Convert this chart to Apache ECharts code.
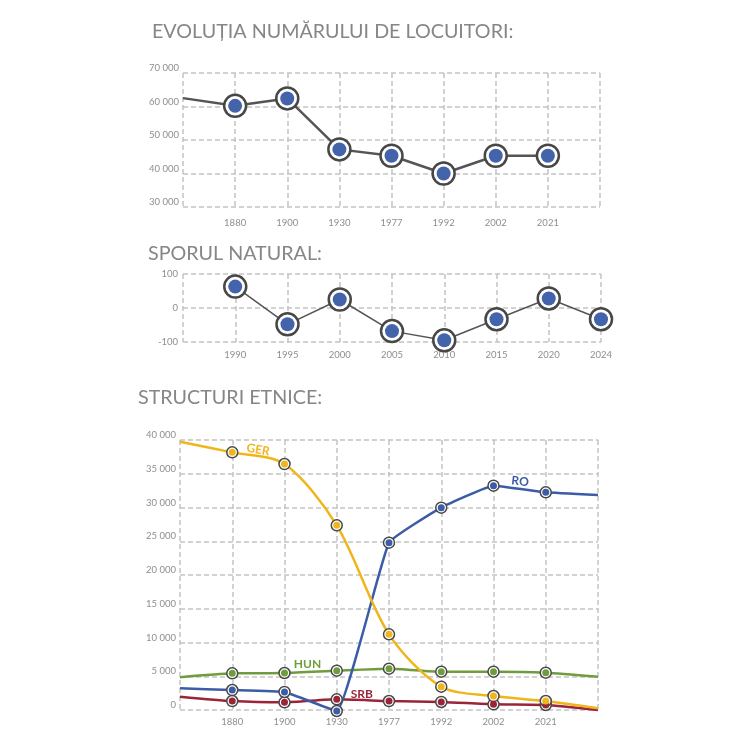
<!DOCTYPE html>
<html lang="ro">
<head>
    <meta charset="UTF-8">
    <title>Evoluția numărului de locuitori</title>
    <script src="https://cdn.jsdelivr.net/npm/echarts@6/dist/echarts.min.js"></script>
    <style>
        html, body { margin: 0; padding: 0; background: #fff; }
    </style>
</head>
<body>
    <div id="main" style="width: 750px; height: 750px;"></div>
    <script>
        // #region date
        var popYears = ['', '1880', '1900', '1930', '1977', '1992', '2002', '2021', '']
        var popValues = [62500, 60200, 62400, 47200, 45300, 40000, 45300, 45300, null]

        var natYears = ['', '1990', '1995', '2000', '2005', '2010', '2015', '2020', '2024']
        var natValues = [null, 63, -48, 25, -68, -95, -33, 28, -33]

        var ethYears = ['', '1880', '1900', '1930', '1977', '1992', '2002', '2021', '']
        var gerValues = [39750, 38170, 36440, 27360, 11210, 3460, 2070, 1330, 250]
        var roValues = [3210, 2960, 2670, -150, 24790, 29980, 33240, 32250, 31850]
        var hunValues = [4840, 5430, 5480, 5830, 6120, 5680, 5680, 5530, 4940]
        var srbValues = [1980, 1330, 1140, 1580, 1330, 1190, 840, 740, 0]
        // #endregion

        var gray = '#868686'
        var labelGray = '#8e8e8e'
        var ring = '#474747'
        var dash = { color: '#c4c4c4', width: 1.5, type: [5, 3] }

        function thousands(v) {
            return String(v).replace(/\B(?=(\d{3})+(?!\d))/g, ' ')
        }

        // puncte fara cerc acolo unde anul lipseste
        function ringData(years, values, labels) {
            return values.map(function (v, i) {
                var item = { value: v }
                if (years[i] === '') item.symbol = 'none'
                if (labels && labels[i]) item.label = labels[i]
                return item
            })
        }
        function dotData(years, values) {
            return values.map(function (v, i) {
                return years[i] === '' ? null : v
            })
        }

        function xAxis(idx, data, margin) {
            return {
                type: 'category', gridIndex: idx, data: data, boundaryGap: false,
                axisLine: { show: false }, axisTick: { show: false },
                axisLabel: { color: labelGray, fontSize: 9.5, margin: margin, fontFamily: 'Lato' },
                splitLine: { show: true, lineStyle: dash }
            }
        }

        function lineSeries(ax, years, values, color, width, size, border, labels, smooth) {
            return {
                type: 'line', xAxisIndex: ax, yAxisIndex: ax,
                data: ringData(years, values, labels),
                smooth: smooth || false,
                clip: false,
                symbol: 'circle', symbolSize: size,
                lineStyle: { color: color, width: width },
                itemStyle: { color: '#fff', borderColor: ring, borderWidth: border },
                emphasis: { disabled: true },
                z: 3
            }
        }
        function dotSeries(ax, years, values, color, size) {
            return {
                type: 'scatter', xAxisIndex: ax, yAxisIndex: ax,
                data: dotData(years, values),
                symbolSize: size, clip: false,
                itemStyle: { color: color, opacity: 1 },
                emphasis: { disabled: true },
                z: 4
            }
        }

        function tag(text, color, dx, dy, rot) {
            return {
                show: true, formatter: text, position: 'inside', offset: [dx, dy], rotate: rot || 0,
                color: color, fontSize: 12, fontWeight: 'bold', fontFamily: 'Lato'
            }
        }

        var chart = echarts.init(document.getElementById('main'))

        var titleStyle = { color: gray, fontSize: 19.7, fontWeight: 'normal', fontFamily: 'Lato' }

        var option = {
            animation: false,
            title: [
                { text: 'EVOLUȚIA NUMĂRULUI DE LOCUITORI:', left: 147, top: 17, textStyle: titleStyle },
                { text: 'SPORUL NATURAL:', left: 143, top: 239, textStyle: titleStyle },
                { text: 'STRUCTURI ETNICE:', left: 133, top: 383, textStyle: titleStyle }
            ],
            grid: [
                { left: 183, right: 150, top: 73, height: 134 },
                { left: 183, right: 149, top: 274, height: 68 },
                { left: 180, right: 152, top: 440, height: 270 }
            ],
            xAxis: [
                xAxis(0, popYears, 11),
                xAxis(1, natYears, 8),
                xAxis(2, ethYears, 7)
            ],
            yAxis: [
                {
                    type: 'value', gridIndex: 0, min: 30000, max: 70000, interval: 10000,
                    axisLine: { show: false }, axisTick: { show: false },
                    axisLabel: { color: labelGray, fontSize: 9.5, margin: 4, verticalAlign: 'bottom', fontFamily: 'Lato', formatter: thousands },
                    splitLine: { show: true, lineStyle: dash }
                },
                {
                    type: 'value', gridIndex: 1, min: -100, max: 100, interval: 100,
                    axisLine: { show: false }, axisTick: { show: false },
                    axisLabel: { color: labelGray, fontSize: 9.5, margin: 5, fontFamily: 'Lato' },
                    splitLine: { show: true, lineStyle: dash }
                },
                {
                    type: 'value', gridIndex: 2, min: 0, max: 40000, interval: 5000,
                    axisLine: { show: false }, axisTick: { show: false },
                    axisLabel: { color: labelGray, fontSize: 9.5, margin: 4, verticalAlign: 'bottom', fontFamily: 'Lato', formatter: thousands },
                    splitLine: { show: true, lineStyle: dash }
                }
            ],
            series: [
                lineSeries(0, popYears, popValues, '#555', 2.5, 22, 2.5),
                dotSeries(0, popYears, popValues, '#4363ab', 14),

                lineSeries(1, natYears, natValues, '#555', 1.5, 22, 2.5),
                dotSeries(1, natYears, natValues, '#4363ab', 14),

                lineSeries(2, ethYears, hunValues, '#6f9c3d', 2.5, 11, 1.5,
                    { 2: tag('HUN', '#6f9c3d', 23, -9) }, 0.2),
                dotSeries(2, ethYears, hunValues, '#6f9c3d', 7),

                lineSeries(2, ethYears, srbValues, '#9b2438', 2.5, 11, 1.5,
                    { 3: tag('SRB', '#9b2438', 25, -5) }, 0.2),
                dotSeries(2, ethYears, srbValues, '#9b2438', 7),

                lineSeries(2, ethYears, roValues, '#3c5ca8', 2.5, 11, 1.5,
                    { 6: tag('RO', '#3c5ca8', 26, -7, -6) }, 0.1),
                dotSeries(2, ethYears, roValues, '#3c5ca8', 7),

                lineSeries(2, ethYears, gerValues, '#f1b51c', 2.5, 11, 1.5,
                    { 1: tag('GER', '#f1b51c', 25, -7, -10) }, 0.3),
                dotSeries(2, ethYears, gerValues, '#f1b51c', 7)
            ]
        }

        chart.setOption(option)
    </script>
</body>
</html>
